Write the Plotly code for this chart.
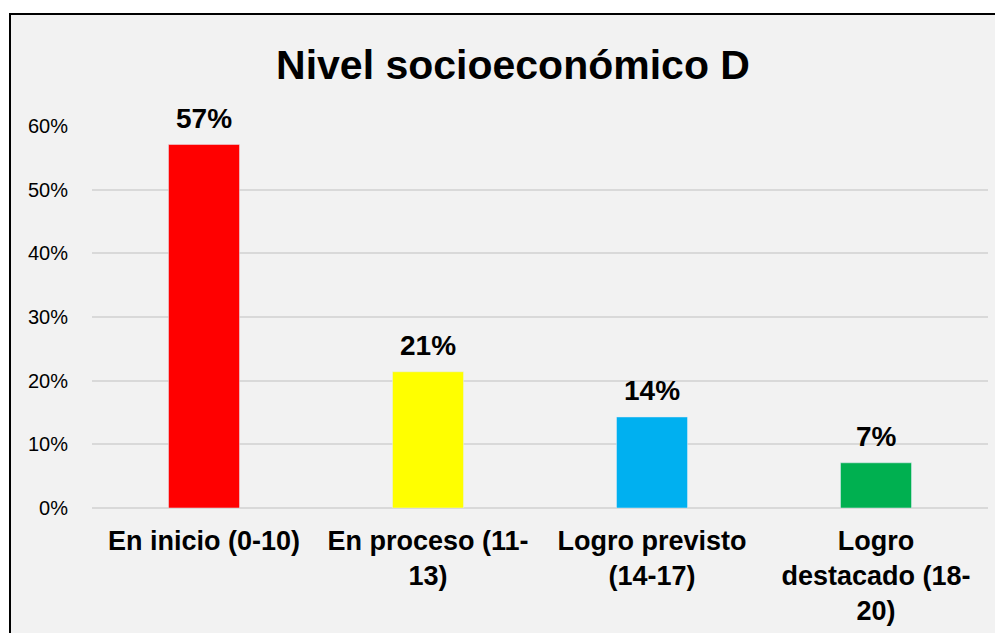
import plotly.graph_objects as go

categories = ["En inicio (0-10)", "En proceso (11-<br>13)", "Logro previsto<br>(14-17)", "Logro<br>destacado (18-<br>20)"]
values = [0.571, 0.214, 0.143, 0.071]
labels = ["57%", "21%", "14%", "7%"]
colors = ["#FF0000", "#FFFF00", "#00B0F0", "#00B050"]
y_ticks = [0, 0.1, 0.2, 0.3, 0.4, 0.5, 0.6]
y_tick_text = ["0%", "10%", "20%", "30%", "40%", "50%", "60%"]

W, H = 1003, 633
OFF = 8  # page body margin
L, T = 92 - OFF, 126 - OFF
R = W - (988 - OFF)
B = H - (508 - OFF)
pw, ph = W - L - R, H - T - B

fig = go.Figure(go.Bar(
    x=categories, y=values, marker_color=colors, width=0.317,
    hoverinfo="skip",
))

for c, v, t in zip(categories, values, labels):
    fig.add_annotation(x=c, y=v, text="<b>" + t + "</b>", showarrow=False,
                       yanchor="middle", yshift=26,
                       font=dict(family="Liberation Sans, Arial", size=28, color="black"))

fig.add_shape(type="rect", xref="paper", yref="paper", layer="below",
              x0=(10 - OFF - L) / pw, x1=(W + 20 - L) / pw,
              y0=(H - B - (H + 20)) / ph, y1=(H - B - (14 - OFF)) / ph,
              fillcolor="#F2F2F2", line=dict(color="black", width=2))

fig.update_layout(
    width=W, height=H,
    margin=dict(l=L, r=R, t=T, b=B),
    paper_bgcolor="white", plot_bgcolor="rgba(0,0,0,0)",
    title=dict(text="<b>Nivel socioeconómico D</b>", x=(513 - OFF) / W, xanchor="center", xref="container",
               y=1 - (65 - OFF) / H, yanchor="middle", yref="container",
               font=dict(family="Liberation Sans, Arial", size=41, color="black")),
    showlegend=False,
    font=dict(family="Liberation Sans, Arial", color="black"),
)
fig.update_xaxes(tickfont=dict(size=27, weight="bold", color="black"), ticks="", showline=False,
                 ticklabelstandoff=14)
fig.update_yaxes(range=[0, 0.6], tickvals=y_ticks, ticktext=y_tick_text,
                 tickfont=dict(size=20, color="black"), gridcolor="#D9D9D9", gridwidth=1.5,
                 zeroline=True, zerolinecolor="#D9D9D9", zerolinewidth=1.5, showline=False,
                 ticklabelstandoff=23)

fig.write_html("out.html")
